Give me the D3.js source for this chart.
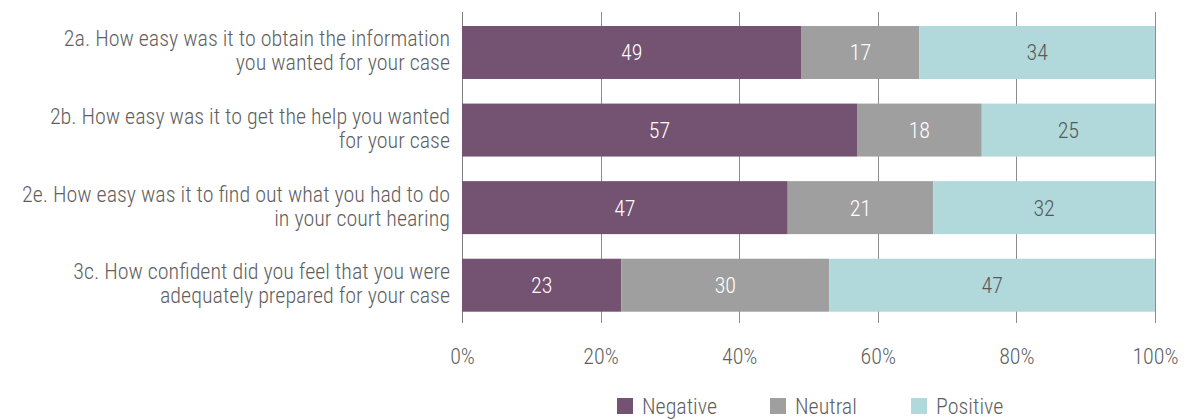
<!DOCTYPE html>
<html><head><meta charset="utf-8">
<script src="https://cdn.jsdelivr.net/npm/d3@7"></script>
<style>
body{margin:0;background:#fff;}
text{font-family:"Roboto Condensed","Liberation Sans Narrow","Liberation Sans",sans-serif;font-weight:300;}
</style></head>
<body><svg id="c" width="1184" height="419"></svg>
<script>
const categories = [
  ["2a. How easy was it to obtain the information", "you wanted for your case"],
  ["2b. How easy was it to get the help you wanted", "for your case"],
  ["2e. How easy was it to find out what you had to do", "in your court hearing"],
  ["3c. How confident did you feel that you were", "adequately prepared for your case"]
];
const seriesNames = ["Negative", "Neutral", "Positive"];
const negative = [49, 57, 47, 23];
const neutral = [17, 18, 21, 30];
const positive = [34, 25, 32, 47];
const tickValues = [0, 20, 40, 60, 80, 100];

const colors = ["#745271", "#a09f9f", "#b1d8da"];
const labelColors = ["#ffffff", "#ffffff", "#595959"];
const FS = 22;

const svg = d3.select("#c");
const x = d3.scaleLinear().domain([0, 100]).range([462, 1155]);
const y = d3.scaleBand().domain(d3.range(categories.length)).range([26, 311.7]).paddingInner(0.317).paddingOuter(0);

const rows = categories.map((c, i) => ({i, vals: [negative[i], neutral[i], positive[i]]}));

// gridlines
svg.append("g").selectAll("line").data(tickValues).join("line")
  .attr("x1", d => Math.round(x(d)) + 0.5).attr("x2", d => Math.round(x(d)) + 0.5)
  .attr("y1", 12).attr("y2", 323)
  .attr("stroke", d => d === 0 ? "#7f7f7f" : "#8c8c8c").attr("stroke-width", 1);

// bars
rows.forEach(r => {
  let acc = 0;
  r.vals.forEach((v, k) => {
    const x0 = acc; acc += v;
    svg.append("rect").attr("x", x(x0)).attr("width", x(acc) - x(x0))
      .attr("y", y(r.i)).attr("height", y.bandwidth()).attr("fill", colors[k]);
    svg.append("text").attr("x", (x(x0) + x(acc)) / 2).attr("y", y(r.i) + y.bandwidth() / 2)
      .attr("dy", "0.36em").attr("text-anchor", "middle").attr("font-size", FS)
      .attr("fill", labelColors[k]).text(v);
  });
});

// category labels
const cl = svg.append("g");
categories.forEach((lines, i) => {
  const cy = y(i) + y.bandwidth() / 2;
  lines.forEach((ln, j) => {
    cl.append("text").attr("x", 450).attr("y", cy - 6 + j * 24)
      .attr("text-anchor", "end").attr("font-size", FS).attr("fill", "#5f5f5f").text(ln);
  });
});

// x axis
const ax = svg.append("g").attr("transform", "translate(0,323)")
  .call(d3.axisBottom(x).tickValues(tickValues).tickFormat(d => d + "%").tickSize(0).tickPadding(0));
ax.select(".domain").remove();
ax.selectAll("text").attr("font-size", FS).attr("fill", "#5f5f5f").attr("dy", null).attr("y", 40.5)
  .attr("font-family", '"Roboto Condensed","Liberation Sans Narrow",sans-serif').attr("font-weight", 300);

// legend
const legX = [617, 770, 911];
const lg = svg.append("g");
seriesNames.forEach((n, k) => {
  lg.append("rect").attr("x", legX[k]).attr("y", 398).attr("width", 16).attr("height", 16).attr("fill", colors[k]);
  lg.append("text").attr("x", legX[k] + 25).attr("y", 414)
    .attr("font-size", FS).attr("fill", "#5f5f5f").text(n);
});
</script></body></html>
